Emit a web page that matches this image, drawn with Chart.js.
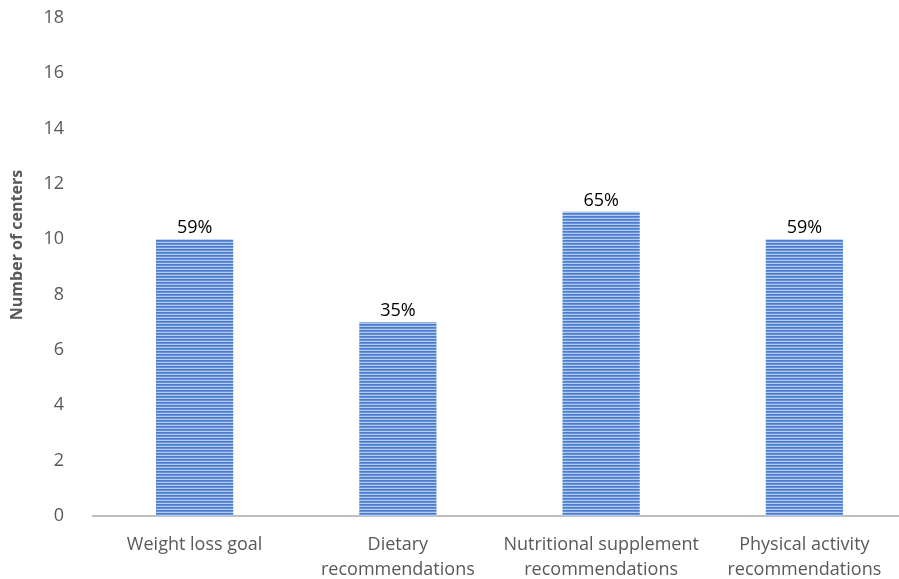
<!DOCTYPE html>
<html>
<head>
<meta charset="utf-8">
<script src="https://cdn.jsdelivr.net/npm/chart.js@4.4.1/dist/chart.umd.min.js"></script>
<style>
  html,body{margin:0;padding:0;background:#fff;overflow:hidden;}
  #wrap{width:899px;height:579px;overflow:hidden;}
</style>
</head>
<body>
<div id="wrap"><canvas id="barChart" width="906" height="579"></canvas></div>
<script>
// data
const categories = [
    "Weight loss goal",
    ["Dietary", "recommendations"],
    ["Nutritional supplement", "recommendations"],
    ["Physical activity", "recommendations"]
];
const centers = [10, 7, 11, 10];
const percentLabels = ["59%", "35%", "65%", "59%"];
const yTicks = [0, 2, 4, 6, 8, 10, 12, 14, 16, 18];
const yTitle = "Number of centers";

// striped fill like the original bars
function stripes(){
    let c = document.createElement('canvas');
    c.width = 3; c.height = 3;
    let g = c.getContext('2d');
    g.fillStyle = '#4b7bcd';
    g.fillRect(0, 0, 3, 1);
    g.fillStyle = '#6a92d9';
    g.fillRect(0, 1, 3, 1);
    g.fillStyle = '#b4cbf0';
    g.fillRect(0, 2, 3, 1);
    return g.createPattern(c, 'repeat');
}

// percent text above each bar + the y axis title
const topLabels = {
    id: 'topLabels',
    afterDatasetsDraw(chart){
        const ctx = chart.ctx;
        chart.getDatasetMeta(0).data.forEach((bar, i) => {
            ctx.save();
            ctx.font = '18px "Open Sans", sans-serif';
            ctx.fillStyle = '#000';
            ctx.textAlign = 'center';
            ctx.textBaseline = 'bottom';
            ctx.fillText(percentLabels[i], bar.x, bar.y - 2);
            ctx.restore();
        });
        ctx.save();
        ctx.translate(17, 245);
        ctx.rotate(-Math.PI / 2);
        ctx.font = 'bold 16px "Open Sans", sans-serif';
        ctx.fillStyle = '#595959';
        ctx.textAlign = 'center';
        ctx.textBaseline = 'middle';
        ctx.fillText(yTitle, 0, 0);
        ctx.restore();
    }
};

const ctx = document.getElementById('barChart').getContext('2d');
const myChart = new Chart(ctx, {
    type: 'bar',
    data: {
        labels: categories,
        datasets: [{
            data: centers,
            backgroundColor: stripes(),
            borderWidth: 0,
            categoryPercentage: 1,
            barPercentage: 0.38
        }]
    },
    options: {
        responsive: false,
        animation: false,
        layout: { padding: { top: 18, right: 0, bottom: 0, left: 0 } },
        plugins: {
            legend: { display: false },
            tooltip: { enabled: false }
        },
        scales: {
            x: {
                grid: { display: false },
                border: { display: true, color: '#bfbfbf', width: 2 },
                ticks: {
                    color: '#595959',
                    font: { family: '"Open Sans", sans-serif', size: 18, lineHeight: 1.4 },
                    padding: 8,
                    maxRotation: 0,
                    autoSkip: false
                },
                afterFit: (scale) => {
                    scale.height = 63;
                    scale.paddingLeft = 0;
                    scale.paddingRight = 0;
                }
            },
            y: {
                min: 0,
                max: 18,
                afterBuildTicks: (axis) => { axis.ticks = yTicks.map(v => ({ value: v })); },
                grid: { display: false },
                border: { display: false },
                ticks: {
                    color: '#595959',
                    font: { family: '"Open Sans", sans-serif', size: 18 },
                    padding: 21
                },
                afterFit: (scale) => {
                    scale.width = 93;
                    scale.paddingTop = 0;
                    scale.paddingBottom = 0;
                }
            }
        }
    },
    plugins: [topLabels]
});
</script>
</body>
</html>
